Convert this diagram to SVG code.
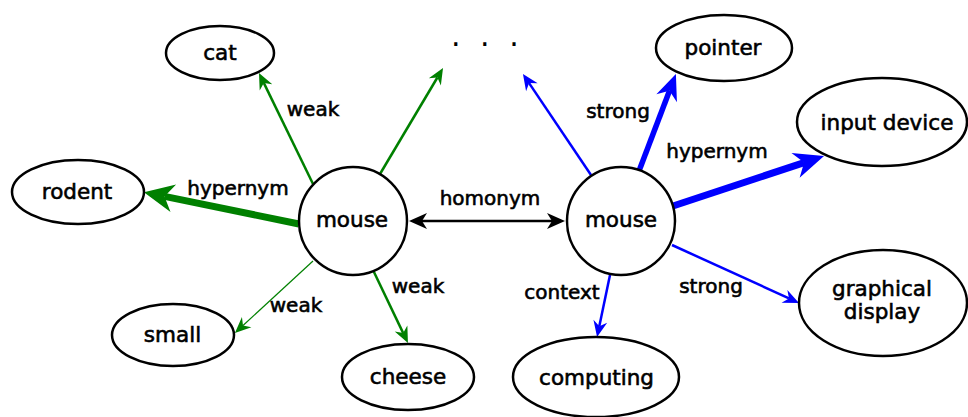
<svg xmlns="http://www.w3.org/2000/svg" width="968" height="417" viewBox="0 0 968 417">
  <style>
    .node { fill: #fff; stroke: #000; stroke-width: 2.5; }
    .nt { font-family: "DejaVu Sans", sans-serif; font-size: 21.5px; fill: #000; stroke: #000; stroke-width: 0.6; text-anchor: middle; }
    .lt { font-family: "DejaVu Sans", sans-serif; font-size: 20px; fill: #000; stroke: #000; stroke-width: 0.6; text-anchor: middle; }
    .g { stroke: #008000; fill: none; }
    .b { stroke: #0000ff; fill: none; }
    .k { stroke: #000; fill: none; }
  </style>
  <defs>
    <!-- small heads: tip 11 past line end -->
    <marker id="gS" markerUnits="userSpaceOnUse" viewBox="0 0 16 14" markerWidth="16" markerHeight="14" refX="5" refY="7" orient="auto" overflow="visible">
      <path d="M0,0 L16,7 L0,14 L5,7 Z" fill="#008000"/>
    </marker>
    <marker id="bS" markerUnits="userSpaceOnUse" viewBox="0 0 16 14" markerWidth="16" markerHeight="14" refX="5" refY="7" orient="auto" overflow="visible">
      <path d="M0,0 L16,7 L0,14 L5,7 Z" fill="#0000ff"/>
    </marker>
    <!-- medium head: tip 18 past line end -->
    <marker id="bM" markerUnits="userSpaceOnUse" viewBox="0 0 26 22" markerWidth="26" markerHeight="22" refX="8" refY="11" orient="auto" overflow="visible">
      <path d="M0,0 L26,11 L0,22 L8,11 Z" fill="#0000ff"/>
    </marker>
    <!-- large heads: tip 21 past line end -->
    <marker id="gL" markerUnits="userSpaceOnUse" viewBox="0 0 30 28" markerWidth="30" markerHeight="28" refX="9" refY="14" orient="auto" overflow="visible">
      <path d="M0,0 L30,14 L0,28 L9,14 Z" fill="#008000"/>
    </marker>
    <marker id="bL" markerUnits="userSpaceOnUse" viewBox="0 0 30 26" markerWidth="30" markerHeight="26" refX="9" refY="13" orient="auto" overflow="visible">
      <path d="M0,0 L30,13 L0,26 L9,13 Z" fill="#0000ff"/>
    </marker>
    <!-- black head for the two-way link -->
    <marker id="kA" markerUnits="userSpaceOnUse" viewBox="0 0 18 16" markerWidth="18" markerHeight="16" refX="5" refY="8" orient="auto-start-reverse" overflow="visible">
      <path d="M0,0 L18,8 L0,16 L5,8 Z" fill="#000"/>
    </marker>
  </defs>

  <g id="connectors">
    <!-- left mouse (animal sense) -->
    <line class="g" x1="314" y1="186" x2="263.8" y2="82.9" stroke-width="2.5" marker-end="url(#gS)"/>
    <line class="g" x1="380" y1="174" x2="437.4" y2="77.5" stroke-width="2.5" marker-end="url(#gS)"/>
    <line class="g" x1="299" y1="224" x2="164.5" y2="196.4" stroke-width="7" marker-end="url(#gL)"/>
    <line class="g" x1="313" y1="261" x2="243" y2="325.5" stroke-width="1.2" marker-end="url(#gS)"/>
    <line class="g" x1="373" y1="270" x2="403.2" y2="333.1" stroke-width="2.5" marker-end="url(#gS)"/>
    <!-- homonym link -->
    <line class="k" x1="422" y1="221" x2="552" y2="221" stroke-width="2.5" marker-start="url(#kA)" marker-end="url(#kA)"/>
    <!-- right mouse (device sense) -->
    <line class="b" x1="591" y1="175" x2="529.1" y2="83.1" stroke-width="2.5" marker-end="url(#bS)"/>
    <line class="b" x1="639" y1="171" x2="669.5" y2="90.8" stroke-width="5.5" marker-end="url(#bM)"/>
    <line class="b" x1="673" y1="206" x2="804.1" y2="162.6" stroke-width="7" marker-end="url(#bL)"/>
    <line class="b" x1="672" y1="245" x2="789" y2="298.4" stroke-width="2.5" marker-end="url(#bS)"/>
    <line class="b" x1="610" y1="275" x2="599.3" y2="326.2" stroke-width="2.5" marker-end="url(#bS)"/>
  </g>

  <g id="edge-labels">
    <text class="lt" x="313" y="116">weak</text>
    <text class="lt" x="238" y="195">hypernym</text>
    <text class="lt" x="296" y="312">weak</text>
    <text class="lt" x="418" y="293">weak</text>
    <text class="lt" x="490" y="205">homonym</text>
    <text class="lt" x="618" y="118">strong</text>
    <text class="lt" x="717" y="158">hypernym</text>
    <text class="lt" x="562" y="299">context</text>
    <text class="lt" x="711" y="293">strong</text>
  </g>

  <g id="more">
    <text x="451" y="46" font-family="DejaVu Sans, sans-serif" font-size="30" letter-spacing="5" fill="#000">. . .</text>
  </g>

  <g id="cat">
    <ellipse class="node" cx="220" cy="53" rx="54" ry="27"/>
    <text class="nt" x="220" y="60">cat</text>
  </g>
  <g id="rodent">
    <ellipse class="node" cx="78" cy="192" rx="66" ry="32"/>
    <text class="nt" x="77" y="199">rodent</text>
  </g>
  <g id="mouse-animal">
    <circle class="node" cx="353" cy="221" r="54"/>
    <text class="nt" x="352" y="227">mouse</text>
  </g>
  <g id="small">
    <ellipse class="node" cx="173" cy="335" rx="61" ry="31"/>
    <text class="nt" x="172.5" y="342">small</text>
  </g>
  <g id="cheese">
    <ellipse class="node" cx="408" cy="377" rx="66" ry="33"/>
    <text class="nt" x="408" y="384">cheese</text>
  </g>
  <g id="mouse-device">
    <circle class="node" cx="621" cy="221" r="54"/>
    <text class="nt" x="621" y="227">mouse</text>
  </g>
  <g id="pointer">
    <ellipse class="node" cx="724" cy="48" rx="68" ry="33"/>
    <text class="nt" x="723" y="55">pointer</text>
  </g>
  <g id="input-device">
    <ellipse class="node" cx="882" cy="122" rx="85" ry="44"/>
    <text class="nt" x="887" y="130">input device</text>
  </g>
  <g id="graphical-display">
    <ellipse class="node" cx="883" cy="303" rx="84" ry="53"/>
    <text class="nt" x="882" y="296">graphical</text>
    <text class="nt" x="882" y="319">display</text>
  </g>
  <g id="computing">
    <ellipse class="node" cx="596" cy="377" rx="83" ry="40"/>
    <text class="nt" x="596.5" y="385">computing</text>
  </g>
</svg>
